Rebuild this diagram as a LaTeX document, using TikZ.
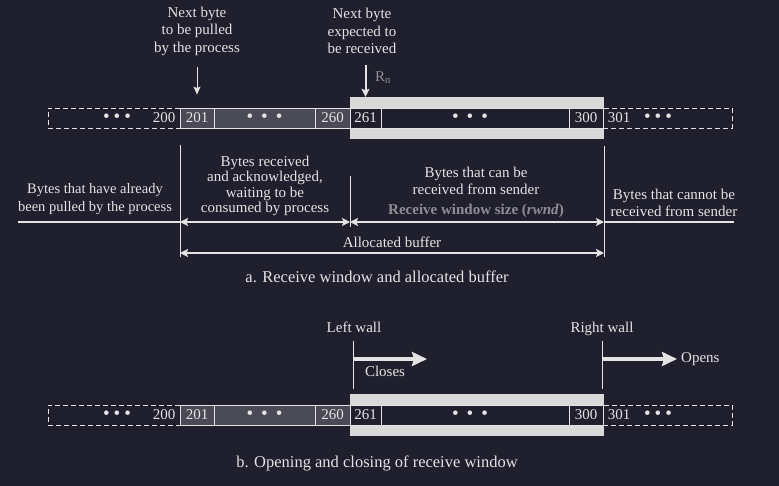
\documentclass[tikz,border=0pt]{standalone}
\usepackage{fontspec}
\setmainfont{Liberation Serif}
\usetikzlibrary{arrows.meta,positioning}
\definecolor{bg}{HTML}{1F1F2E}
\definecolor{fg}{HTML}{E4E4E4}
\definecolor{cellgray}{HTML}{4A4A56}
\definecolor{band}{HTML}{D9D9D9}
\definecolor{dimtext}{HTML}{8E8E94}
\newcommand{\bdots}[1]{{\fontsize{19}{19}\selectfont\textbullet\hspace{#1}\textbullet\hspace{#1}\textbullet}}

\begin{document}
\begin{tikzpicture}[x=1pt,y=-1pt,
	every node/.style={text=fg,font=\fontsize{15}{17.5}\selectfont,inner sep=0pt},
	cell/.style={draw=fg,line width=0.8pt,minimum height=20pt},
	dashcell/.style={draw=fg,line width=0.8pt,dash pattern=on 5pt off 3pt,minimum height=20pt},
	dim/.style={fg,line width=2pt,{Stealth[length=8pt,width=8pt,inset=1.5pt]}-{Stealth[length=8pt,width=8pt,inset=1.5pt]}},
	wall/.style={fg,line width=0.8pt},
	push/.style={fg,line width=4pt,-{Stealth[length=15pt,width=14pt,inset=2pt]}},
	caption/.style={font=\fontsize{16.5}{19}\selectfont}]
	% Background and page size
	\fill[bg] (0,0) rectangle (779,486);
	% The two byte rows: a. at the top, b. at the bottom
	\foreach \r/\y in {a/118, b/415} {
		% Window band behind bytes 261..300
		\node[fill=band,minimum width=254pt,minimum height=42pt] (\r win) at (477,\y) {};
		% Bytes already pulled (dashed)
		\node[dashcell,minimum width=132pt] (\r old) at (114,\y) {};
		\node (\r dl) at (117,\y) {\bdots{4pt}};
		\node (\r200) at (164,\y) {200};
		% Bytes waiting to be consumed are gray
		\node[cell,fill=cellgray,minimum width=34pt] (\r201) at (197,\y) {201};
		\node[cell,fill=cellgray,minimum width=101pt] (\r gm) at (264.5,\y) {\bdots{8pt}};
		\node[cell,fill=cellgray,minimum width=35pt] (\r260) at (332.5,\y) {260};
		% Bytes inside the receive window
		\node[cell,fill=bg,minimum width=31pt] (\r261) at (365.5,\y) {261};
		\node[cell,fill=bg,minimum width=188pt] (\r wm) at (475,\y) {};
		\node (\r wd) at (470,\y) {\bdots{8pt}};
		\node[cell,fill=bg,minimum width=34pt] (\r300) at (586,\y) {300};
		% Bytes that cannot be received (dashed)
		\node[dashcell,minimum width=129pt] (\r new) at (667.5,\y) {};
		\node (\r301) at (619,\y) {301};
		\node (\r dr) at (658,\y) {\bdots{4pt}};
	}
	% Pointers above row a.
	\node[align=center] (pull) at (197,31) {Next byte\\to be pulled\\by the process};
	\node[align=center] (expect) at (362,31) {Next byte\\expected to\\be received};
	\node[text=dimtext] (rn) at (383,78) {R\textsubscript{n}};
	\draw[fg,line width=1pt,-{Stealth[length=8pt,width=7pt,inset=1.5pt]}] ([yshift=-11pt]pull.south) -- ([yshift=13pt]a201.north);
	\draw[fg,line width=2pt,-{Stealth[length=8pt,width=8pt,inset=1.5pt]}] ([yshift=-11pt]expect.south -| a261) -- (a261 |- awin.north);
	% Regions of the buffer
	\coordinate (gA1) at (180,145); \coordinate (gA2) at (180,257);
	\coordinate (gB1) at (350,176); \coordinate (gB2) at (350,227);
	\coordinate (gC1) at (604,146); \coordinate (gC2) at (604,257);
	\coordinate (eL) at (18,222); \coordinate (eR) at (734,222);
	\coordinate (alloc) at (180,253);
	\draw[wall] (gA1) -- (gA2);
	\draw[wall] (gB1) -- (gB2);
	\draw[wall] (gC1) -- (gC2);
	\draw[dim,{-}] (eL) -- (gA1 |- eL);
	\draw[dim] (gA1 |- eL) -- (gB1 |- eL);
	\draw[dim] (gB1 |- eL) -- (gC1 |- eL);
	\draw[dim,{-}] (eR) -- (gC1 |- eL);
	\draw[dim] (alloc) -- (gC1 |- alloc);
	\node[align=center,font=\fontsize{14.5}{17.5}\selectfont] (pulled) at (95,199) {Bytes that have already\\been pulled by the process};
	\node[align=center,font=\fontsize{15}{15.5}\selectfont] (waiting) at (265,186) {Bytes received\\and acknowledged,\\waiting to be\\consumed by process};
	\node[align=center,font=\fontsize{15}{16.5}\selectfont] (canrecv) at (476,181) {Bytes that can be\\received from sender};
	\node[text=dimtext,font=\fontsize{15}{17}\selectfont\bfseries] (rwnd) at (476,211) {Receive window size (\textit{rwnd})};
	\node[align=center] (cannot) at (674,203) {Bytes that cannot be\\received from sender};
	\node (allocbuf) at (392,242) {Allocated buffer};
	\node[caption] (capa) at (377,277) {a. Receive window and allocated buffer};
	% Walls of the window in row b.
	\node[anchor=base] (lwall) at (354,332) {Left wall};
	\node[anchor=base] (rwall) at (602,332) {Right wall};
	\coordinate (lw1) at (353,341); \coordinate (lw2) at (353,389);
	\coordinate (rw1) at (602,341); \coordinate (rw2) at (602,389);
	\coordinate (cl) at (427,359); \coordinate (op) at (677,359);
	\draw[wall] (lw1) -- (lw2);
	\draw[wall] (rw1) -- (rw2);
	\draw[push] (lw1 |- cl) -- (cl);
	\draw[push] (rw1 |- op) -- (op);
	\node (closes) at (385,371) {Closes};
	\node[right=4pt of op] (opens) {Opens};
	\node[caption] (capb) at (377,463) {b. Opening and closing of receive window};
\end{tikzpicture}
\end{document}
